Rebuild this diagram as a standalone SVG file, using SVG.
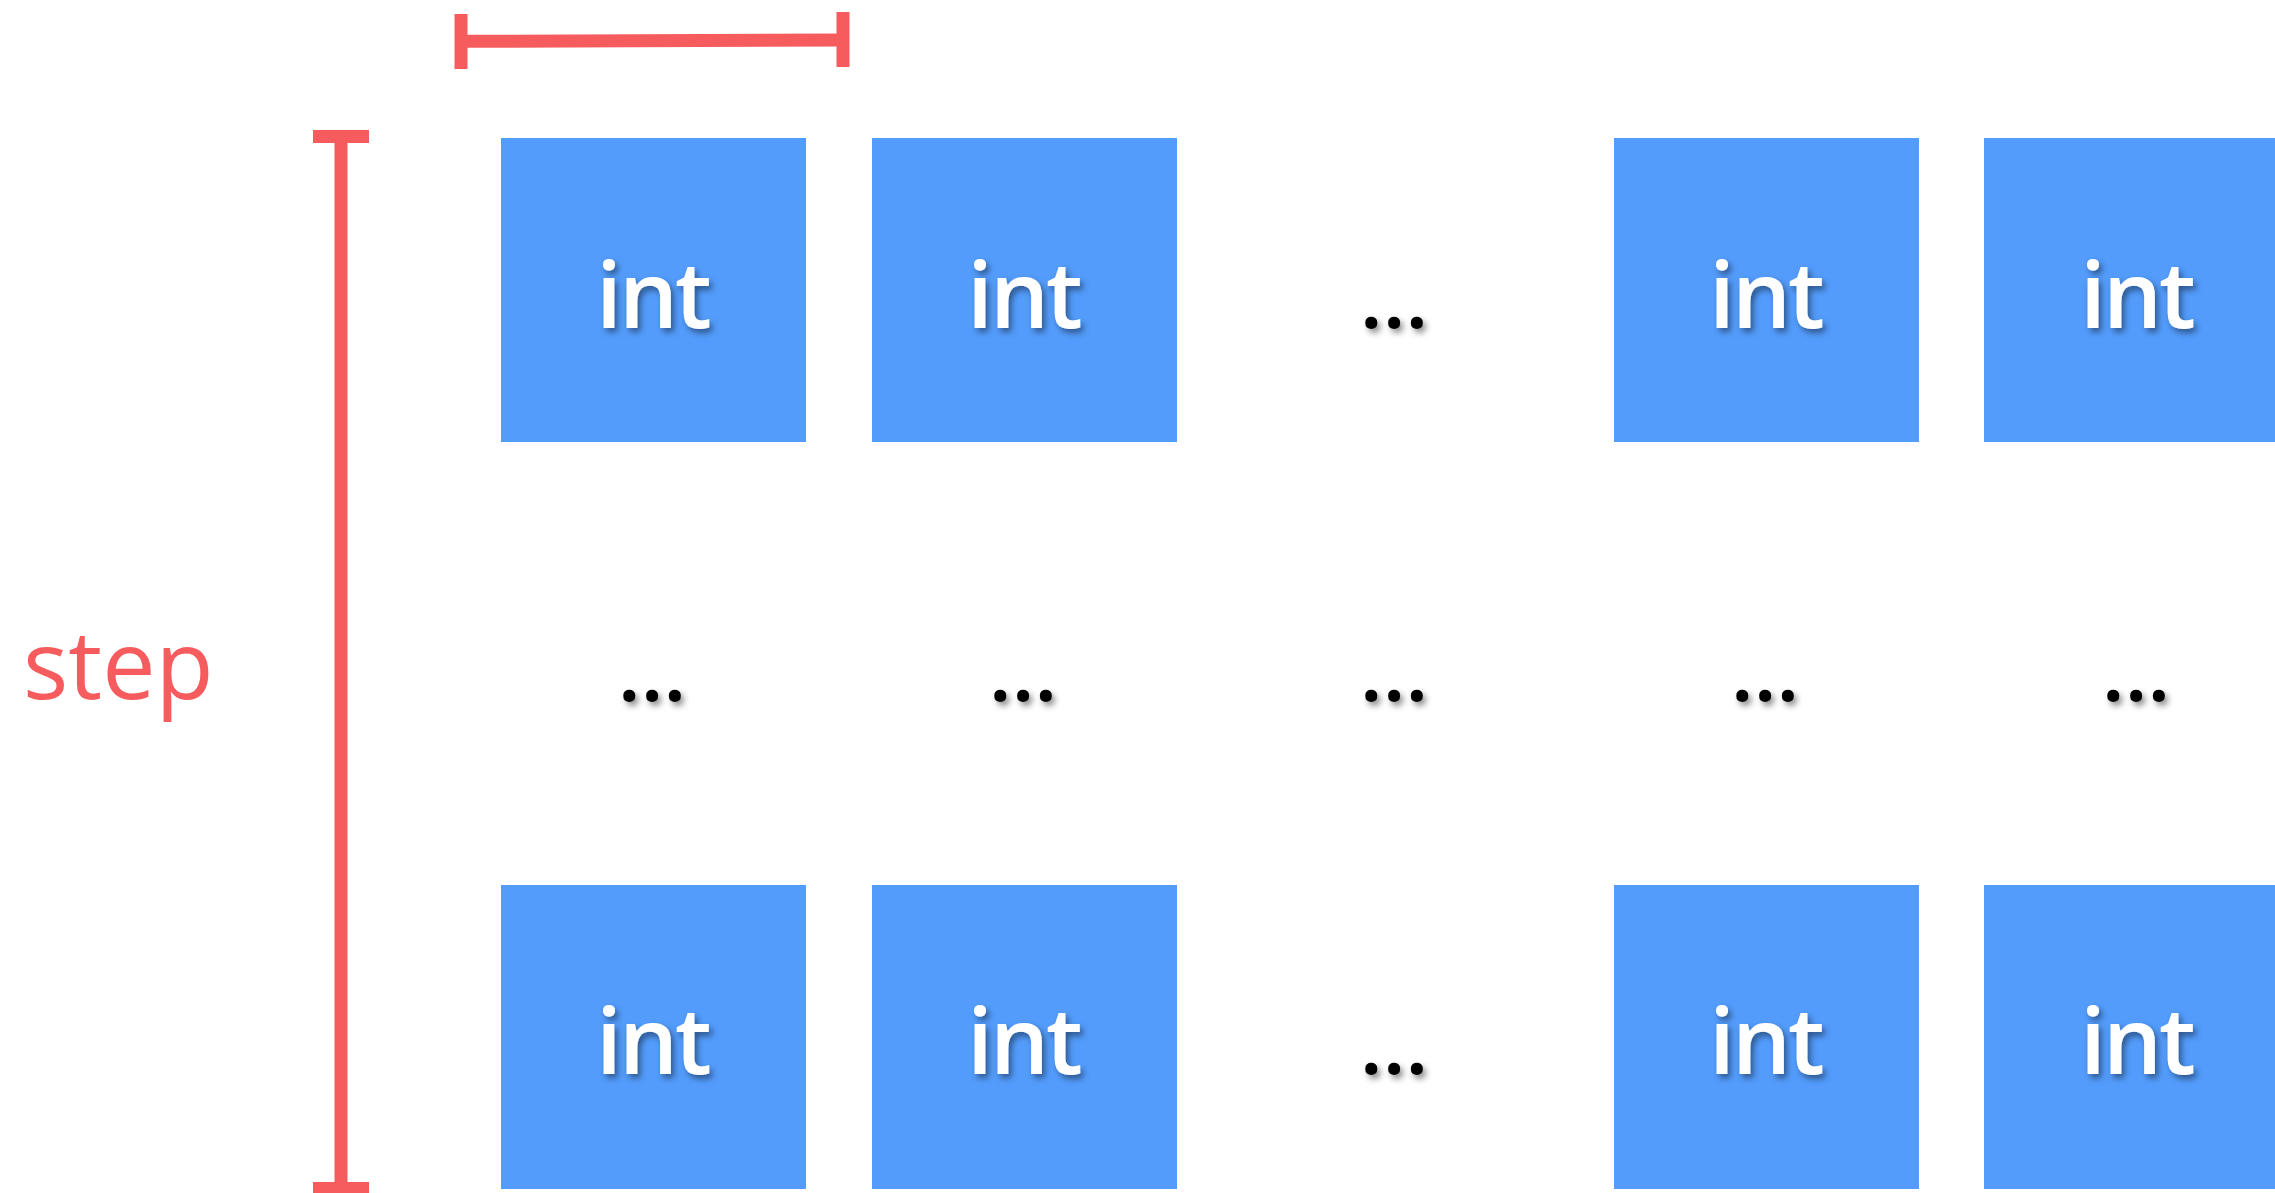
<svg xmlns="http://www.w3.org/2000/svg" width="2275" height="1193" viewBox="0 0 2275 1193">
  <defs>
    <filter id="shadow" x="-20%" y="-20%" width="150%" height="160%">
      <feDropShadow dx="3" dy="4" stdDeviation="3" flood-color="#000" flood-opacity="0.45"/>
    </filter>
  </defs>
  <style>
    .cell { fill: #539CFC; }
    .lbl { font-family: "Open Sans", "Liberation Sans", sans-serif; font-weight: 600; text-anchor: middle; filter: url(#shadow); }
    .int { fill: #ffffff; font-size: 93px; letter-spacing: -3px; }
    .dots { fill: #000000; font-size: 84px; }
    .bar { stroke: #F65C5E; stroke-width: 13; fill: none; }
    .step { font-family: "Open Sans", "Liberation Sans", sans-serif; font-size: 95px; fill: #F65C5E; }
  </style>

  <!-- measure brackets -->
  <g id="connectors">
    <line class="bar" x1="461" y1="41.3" x2="843" y2="40"/>
    <line class="bar" x1="461" y1="14" x2="461" y2="69"/>
    <line class="bar" x1="843" y1="12" x2="843" y2="67"/>
    <line class="bar" x1="341" y1="136" x2="341" y2="1188"/>
    <line class="bar" x1="313" y1="136.5" x2="369" y2="136.5"/>
    <line class="bar" x1="313" y1="1188.5" x2="369" y2="1188.5"/>
  </g>

  <g id="step-label">
    <text class="step" x="23" y="699">step</text>
  </g>

  <!-- first row -->
  <g id="r1c1"><rect class="cell" x="501" y="138" width="305" height="304"/><text class="lbl int" x="652.5" y="328">int</text></g>
  <g id="r1c2"><rect class="cell" x="872" y="138" width="305" height="304"/><text class="lbl int" x="1023.5" y="328">int</text></g>
  <g id="r1c3"><text class="lbl dots" x="1394" y="328">…</text></g>
  <g id="r1c4"><rect class="cell" x="1614" y="138" width="305" height="304"/><text class="lbl int" x="1765.5" y="328">int</text></g>
  <g id="r1c5"><rect class="cell" x="1984" y="138" width="305" height="304"/><text class="lbl int" x="2136.5" y="328">int</text></g>

  <!-- middle row -->
  <g id="r2c1"><text class="lbl dots" x="652" y="701">…</text></g>
  <g id="r2c2"><text class="lbl dots" x="1023" y="701">…</text></g>
  <g id="r2c3"><text class="lbl dots" x="1394" y="701">…</text></g>
  <g id="r2c4"><text class="lbl dots" x="1765" y="701">…</text></g>
  <g id="r2c5"><text class="lbl dots" x="2136" y="701">…</text></g>

  <!-- last row -->
  <g id="r3c1"><rect class="cell" x="501" y="885" width="305" height="304"/><text class="lbl int" x="652.5" y="1074">int</text></g>
  <g id="r3c2"><rect class="cell" x="872" y="885" width="305" height="304"/><text class="lbl int" x="1023.5" y="1074">int</text></g>
  <g id="r3c3"><text class="lbl dots" x="1394" y="1074">…</text></g>
  <g id="r3c4"><rect class="cell" x="1614" y="885" width="305" height="304"/><text class="lbl int" x="1765.5" y="1074">int</text></g>
  <g id="r3c5"><rect class="cell" x="1984" y="885" width="305" height="304"/><text class="lbl int" x="2136.5" y="1074">int</text></g>
</svg>
